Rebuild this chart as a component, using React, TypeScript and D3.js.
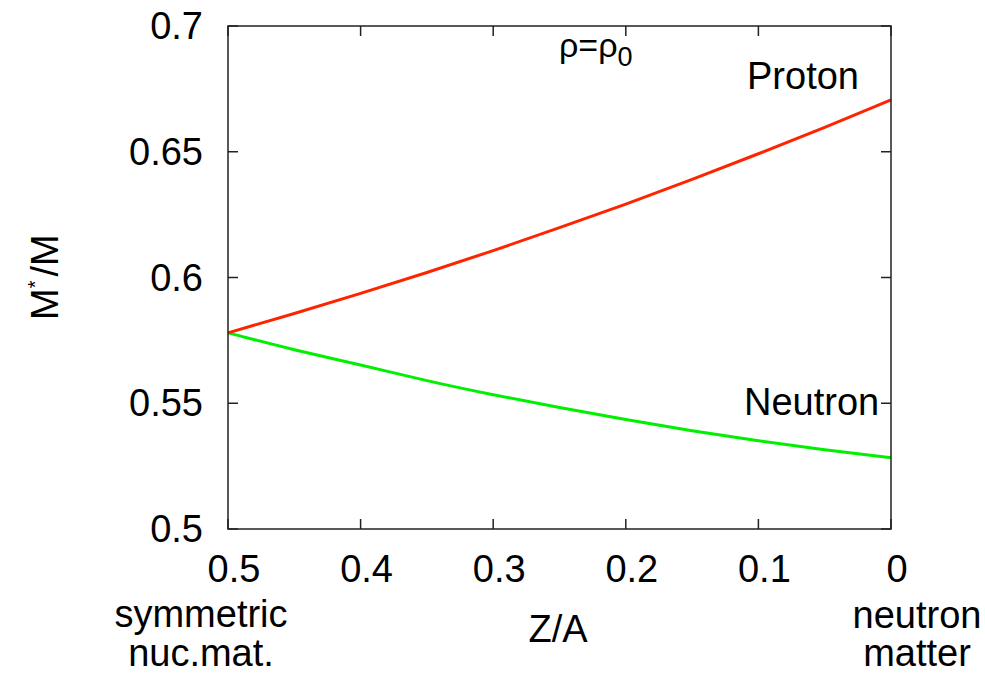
import React from "react";
import * as d3 from "d3";

const zOverA = [0.5, 0.45, 0.4, 0.35, 0.3, 0.25, 0.2, 0.15, 0.1, 0.05, 0.0];
const protonMass = [0.578, 0.5857, 0.5937, 0.602, 0.6107, 0.6198, 0.6292, 0.639, 0.6492, 0.6597, 0.6706];
const neutronMass = [0.578, 0.5713, 0.5652, 0.559, 0.5534, 0.5483, 0.5435, 0.5391, 0.5351, 0.5315, 0.5283];
const xTicks = [0.5, 0.4, 0.3, 0.2, 0.1, 0];
const yTicks = [0.5, 0.55, 0.6, 0.65, 0.7];
const yTickLabels = ["0.5", "0.55", "0.6", "0.65", "0.7"];
const xTickLabels = ["0.5", "0.4", "0.3", "0.2", "0.1", "0"];

const W = 985;
const H = 674;
const L = 228, R = 891, T = 26, B = 529;
const FONT = "'Liberation Sans', Arial, Helvetica, sans-serif";

export default function App() {
  const x = d3.scaleLinear().domain([0.5, 0]).range([L, R]);
  const y = d3.scaleLinear().domain([0.5, 0.7]).range([B, T]);
  const line = d3
    .line<number>()
    .x((_, i) => x(zOverA[i]))
    .y((d) => y(d))
    .curve(d3.curveNatural);
  const tickLen = 10;
  const frameColor = "#222";
  return (
    <svg
      width={W}
      height={H}
      style={{ position: "absolute", left: 0, top: 0, background: "#fff" }}
      fontFamily={FONT}
    >
      <rect x={0} y={0} width={W} height={H} fill="#fff" />
      {/* curves */}
      <path d={line(neutronMass) || ""} fill="none" stroke="#00f000" strokeWidth={3} />
      <path d={line(protonMass) || ""} fill="none" stroke="#ff2400" strokeWidth={3} />
      {/* frame */}
      <rect x={L} y={T} width={R - L} height={B - T} fill="none" stroke={frameColor} strokeWidth={1.5} />
      {xTicks.map((t) => (
        <g key={"xt" + t}>
          <line x1={x(t)} x2={x(t)} y1={B} y2={B - tickLen} stroke={frameColor} strokeWidth={1.5} />
          <line x1={x(t)} x2={x(t)} y1={T} y2={T + tickLen} stroke={frameColor} strokeWidth={1.5} />
        </g>
      ))}
      {yTicks.map((t) => (
        <g key={"yt" + t}>
          <line x1={L} x2={L + tickLen} y1={y(t)} y2={y(t)} stroke={frameColor} strokeWidth={1.5} />
          <line x1={R} x2={R - tickLen} y1={y(t)} y2={y(t)} stroke={frameColor} strokeWidth={1.5} />
        </g>
      ))}
      {/* tick labels */}
      {yTicks.map((t, i) => (
        <text key={"yl" + t} x={203} y={y(t) + 13} fontSize={38} textAnchor="end" fill="#000">
          {yTickLabels[i]}
        </text>
      ))}
      {xTicks.map((t, i) => (
        <text key={"xl" + t} x={x(t) + 6} y={582} fontSize={38} textAnchor="middle" fill="#000">
          {xTickLabels[i]}
        </text>
      ))}
      {/* axis titles */}
      <text x={558} y={642} fontSize={38} textAnchor="middle" fill="#000">
        Z/A
      </text>
      <text transform="translate(58,320) rotate(-90)" fontSize={38} fill="#000">
        M
        <tspan dy={-16} fontSize={20}>*</tspan>
        <tspan dy={16} dx={4}>/M</tspan>
      </text>
      {/* annotations */}
      <text x={747} y={89} fontSize={38} fill="#000">Proton</text>
      <text x={744} y={415} fontSize={38} fill="#000">Neutron</text>
      <text x={559} y={57} fontSize={34} fill="#000">
        ρ=ρ<tspan dy={9} fontSize={27}>0</tspan>
      </text>
      <text x={201} y={627} fontSize={38} textAnchor="middle" fill="#000">symmetric</text>
      <text x={201} y={666} fontSize={38} textAnchor="middle" fill="#000">nuc.mat.</text>
      <text x={917} y={628} fontSize={38} textAnchor="middle" fill="#000">neutron</text>
      <text x={917} y={666} fontSize={38} textAnchor="middle" fill="#000">matter</text>
    </svg>
  );
}
